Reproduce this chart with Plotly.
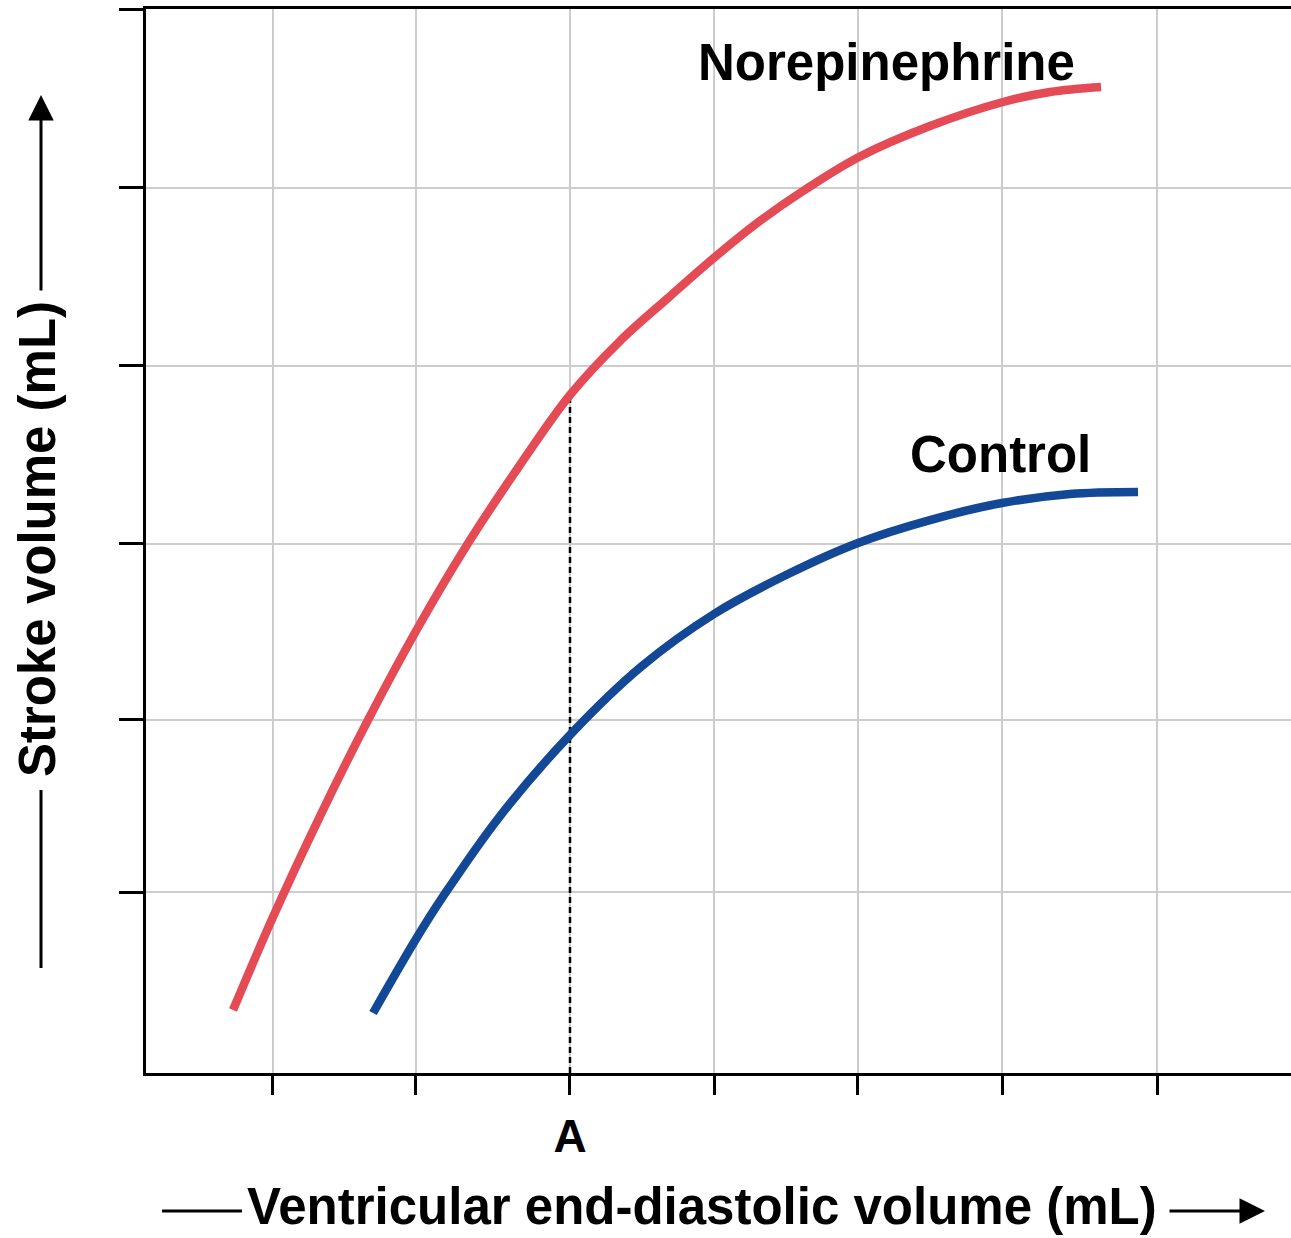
import plotly.graph_objects as go

# Frank–Starling curves, arbitrary units on both axes (0–100)
edv_norepi = [7.6, 11.09, 15.2, 19.39, 23.58, 28.03, 32.66, 37.03, 41.4,
              45.59, 49.69, 53.62, 57.38, 62.27, 68.47, 74.85, 78.95, 83.41]
sv_norepi = [5.92, 14.66, 24.15, 33.18, 41.54, 49.62, 57.14, 63.72, 68.8,
             72.84, 76.69, 80.08, 82.89, 86.09, 89.0, 91.26, 92.2, 92.67]

edv_control = [19.83, 23.58, 26.03, 30.92, 37.03, 43.32, 49.61, 55.9, 62.18,
               68.47, 74.76, 80.7, 86.64]
sv_control = [5.64, 12.59, 16.73, 24.15, 31.77, 38.25, 43.14, 46.8, 49.81,
              51.97, 53.57, 54.42, 54.61]

x_ticks = [11.09, 23.58, 37.03, 49.61, 62.18, 74.76, 88.3]
x_tick_labels = ["", "", "<b>A</b>", "", "", "", ""]
y_ticks = [17.01, 33.18, 49.72, 66.45, 83.18, 100]

edv_a = 37.03           # volume marked "A"
sv_norepi_at_a = 63.72  # norepinephrine stroke volume at A

RED = "#E44B55"
BLUE = "#124896"
FONT = "Liberation Sans, Arial, Helvetica, sans-serif"
TEXT_SIZE = 51

fig = go.Figure()

# dashed drop line from the norepinephrine curve down to volume A
fig.add_trace(go.Scatter(
    x=[edv_a, edv_a], y=[0, sv_norepi_at_a], mode="lines",
    line=dict(color="black", width=2.5, dash="6px,4px"),
    hoverinfo="skip", showlegend=False))

fig.add_trace(go.Scatter(
    x=edv_norepi, y=sv_norepi, mode="lines", name="Norepinephrine",
    line=dict(color=RED, width=8.5, shape="spline", smoothing=1.0),
    showlegend=False))

fig.add_trace(go.Scatter(
    x=edv_control, y=sv_control, mode="lines", name="Control",
    line=dict(color=BLUE, width=8.5, shape="spline", smoothing=1.0),
    showlegend=False))

fig.update_layout(
    width=1291, height=1238,
    margin=dict(l=146, r=0, t=9, b=165),
    paper_bgcolor="white", plot_bgcolor="white",
    font=dict(family=FONT, color="black"),
    xaxis=dict(
        range=[0, 100], tickvals=x_ticks, ticktext=x_tick_labels,
        showgrid=True, gridcolor="#cdcdcd", gridwidth=2, zeroline=False,
        ticks="outside", ticklen=19, tickwidth=3, tickcolor="black",
        showline=True, linecolor="black", linewidth=3, mirror=True,
        tickfont=dict(size=46, family=FONT, color="black"),
        ticklabelstandoff=2,
    ),
    yaxis=dict(
        range=[0, 100], tickvals=y_ticks, ticktext=[""] * len(y_ticks),
        showgrid=True, gridcolor="#cdcdcd", gridwidth=2, zeroline=False,
        ticks="outside", ticklen=24, tickwidth=3, tickcolor="black",
        showline=True, linecolor="black", linewidth=3,
    ),
)

# curve labels
fig.add_annotation(x=64.63, y=95.0, text="<b>Norepinephrine</b>", showarrow=False,
                   font=dict(size=TEXT_SIZE, family=FONT, color="black"),
                   xanchor="center", yanchor="middle")
fig.add_annotation(x=74.67, y=58.1, text="<b>Control</b>", showarrow=False,
                   font=dict(size=TEXT_SIZE, family=FONT, color="black"),
                   xanchor="center", yanchor="middle")

# axis titles with their leader lines and arrows
fig.add_annotation(xref="paper", yref="paper", x=0.4856, y=-0.125,
                   text="<b>Ventricular end-diastolic volume (mL)</b>", showarrow=False,
                   font=dict(size=TEXT_SIZE, family=FONT, color="black"),
                   xanchor="center", yanchor="middle")
fig.add_shape(type="line", xref="paper", yref="paper",
              x0=0.014, x1=0.0838, y0=-0.1297, y1=-0.1297,
              line=dict(color="black", width=3))
fig.add_annotation(xref="paper", yref="paper", x=0.9773, y=-0.1297, ax=-97, ay=0,
                   text="", showarrow=True, arrowhead=2, arrowsize=1.7,
                   arrowwidth=3, arrowcolor="black")

fig.add_annotation(xref="paper", yref="paper", x=-0.0943, y=0.5019,
                   text="<b>Stroke volume (mL)</b>", showarrow=False, textangle=-90,
                   font=dict(size=TEXT_SIZE, family=FONT, color="black"),
                   xanchor="center", yanchor="middle")
fig.add_shape(type="line", xref="paper", yref="paper",
              x0=-0.0917, x1=-0.0917, y0=0.0987, y1=0.266,
              line=dict(color="black", width=3))
fig.add_annotation(xref="paper", yref="paper", x=-0.0917, y=0.9192, ax=0, ay=197,
                   text="", showarrow=True, arrowhead=2, arrowsize=1.7,
                   arrowwidth=3, arrowcolor="black")

fig.write_html("out.html")
